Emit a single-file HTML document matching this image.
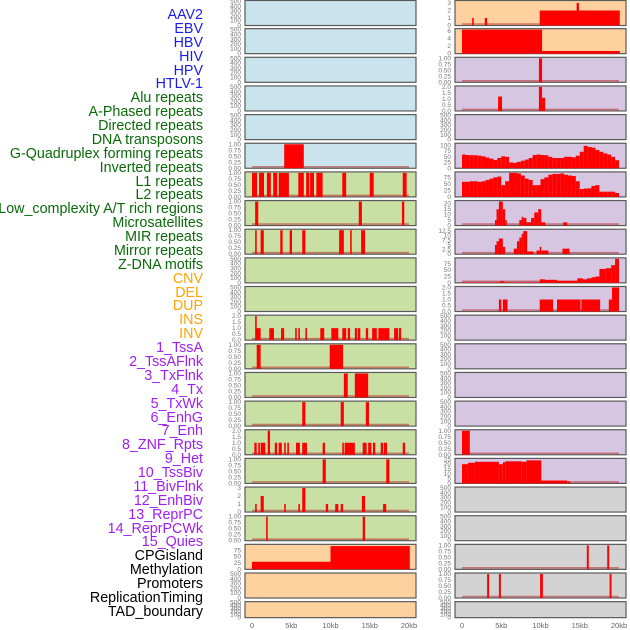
<!DOCTYPE html>
<html><head><meta charset="utf-8"><style>
body{margin:0;background:#fff;width:630px;height:630px;overflow:hidden;position:relative;font-family:"Liberation Sans",sans-serif}
#labels{position:absolute;left:0;top:0;width:203px;height:630px}
.lab{position:absolute;right:0;font-size:14.3px;line-height:14px;white-space:nowrap}
svg{position:absolute;left:0;top:0}
</style></head><body>
<div id="labels"></div>
<svg id="chart" width="630" height="630"></svg>
<script>
const labelNames=["AAV2","EBV","HBV","HIV","HPV","HTLV-1","Alu repeats","A-Phased repeats","Directed repeats","DNA transposons","G-Quadruplex forming repeats","Inverted repeats","L1 repeats","L2 repeats","Low_complexity A/T rich regions","Microsatellites","MIR repeats","Mirror repeats","Z-DNA motifs","CNV","DEL","DUP","INS","INV","1_TssA","2_TssAFlnk","3_TxFlnk","4_Tx","5_TxWk","6_EnhG","7_Enh","8_ZNF_Rpts","9_Het","10_TssBiv","11_BivFlnk","12_EnhBiv","13_ReprPC","14_ReprPCWk","15_Quies","CPGisland","Methylation","Promoters","ReplicationTiming","TAD_boundary"];
const labelGroups=[6,13,5,15,5];
const groupColors=["#1c1cf0","#0a6a0a","#ffa500","#a020f0","#000000"];
const xTicks=[0,5,10,15,20];
const xTickLabels=["0","5kb","10kb","15kb","20kb"];
const T500=[0,100,200,300,400,500];
const T1=[0,0.25,0.5,0.75,1.0];
const T2=[0,0.5,1.0,1.5,2.0];
const leftBg=["#c9e4ec","#c9e4ec","#c9e4ec","#c9e4ec","#c9e4ec","#c9e4ec","#c9e0a5","#c9e0a5","#c9e0a5","#c9e0a5","#c9e0a5","#c9e0a5","#c9e0a5","#c9e0a5","#c9e0a5","#c9e0a5","#c9e0a5","#c9e0a5","#c9e0a5","#ffd19e","#ffd19e","#ffd19e"];
const rightBg=["#ffd19e","#ffd19e","#d6c6e2","#d6c6e2","#d6c6e2","#d6c6e2","#d6c6e2","#d6c6e2","#d6c6e2","#d6c6e2","#d6c6e2","#d6c6e2","#d6c6e2","#d6c6e2","#d6c6e2","#d6c6e2","#d6c6e2","#d3d3d3","#d3d3d3","#d3d3d3","#d3d3d3","#d3d3d3"];
const rProf5=[60,58,57,57,55,52,47,42,36,45,52,50,25,24,28,33,38,45,58,60,58,57,50,45,45,45,50,50,48,55,72,98,93,90,80,72,65,60,50,35];
const rProf6=[58,58,60,60,58,60,65,70,75,78,45,60,92,92,90,82,70,65,45,45,68,75,85,88,88,90,85,82,80,60,30,32,33,42,45,20,20,20,20,15];
const leftYmax=[500,500,500,500,500,1,1,1,1,500,500,2,1,1,1,2,1,3,1,95,500,500];
const rightYmax=[3.2,6.3,1,2,500,105,92,22,13,95,2,500,500,500,500,1,25,500,500,1,1,500];
const leftTicks=[T500,T500,T500,T500,T500,T1,T1,T1,T1,T500,T500,T2,T1,T1,T1,T2,T1,[0,1,2,3],T1,[0,25,50,75],T500,T500];
const rightTicks=[[0,1,2,3],[0,2,4,6],T1,T2,T500,[0,25,50,75,100],[0,25,50,75],[0,5,10,15,20],[0,2.5,5,7.5,10,12.5],[0,25,50,75],T2,T500,T500,T500,T500,T1,[0,5,10,15,20,25],T500,T500,T1,T1,T500];
const leftBars=[[],[],[],[],[],
[[4.1,6.6,1]],
[[0,0.64,1],[0.9,1.53,1],[1.9,2.4,1],[2.7,3.2,1],[3.4,4.7,1],[5.9,6.6,1],[6.9,7.3,1],[7.4,7.9,1],[8.2,9.0,1],[11.5,12.0,1],[15.0,15.5,1],[19.2,19.7,1]],
[[0.4,0.8,1],[13.6,14.0,1],[19.1,19.4,1]],
[[0.4,0.6,1],[1.1,1.5,1],[3.6,3.9,1],[4.8,5.1,1],[6.4,6.8,1],[11.1,11.7,1],[12.5,12.7,1],[13.9,14.4,1]],
[],[],
[[0.4,0.5,2],[0.5,1.1,1],[2.2,2.8,1],[3.7,4.1,1],[5.5,5.7,1],[5.9,6.1,1],[6.8,7.0,1],[8.7,9.2,1],[10.1,11.0,1],[11.5,12.0,1],[12.2,12.5,1],[13.1,13.4,1],[13.5,13.8,1],[14.5,14.8,1],[15.3,15.9,1],[16.1,17.5,1],[18.1,18.6,1],[18.7,19.0,1]],
[[0.6,1.1,1],[9.9,11.6,1]],
[[11.7,12.2,1],[13.1,14.8,1]],
[[6.4,6.8,1],[11.3,11.7,1],[14.5,14.9,1]],
[[0.3,0.6,1],[0.8,1.0,1],[1.1,1.7,1],[2.0,2.3,2],[2.9,3.2,1],[3.4,3.8,1],[4.1,4.3,1],[4.5,4.7,1],[5.6,6.1,1],[6.4,7.0,1],[9.0,9.3,1],[11.5,11.7,1],[11.8,13.1,1],[14.1,14.6,1],[14.8,15.2,1],[15.4,15.7,1],[16.4,16.7,1],[16.8,17.2,1],[19.2,19.5,1]],
[[9.0,9.4,1],[17.1,17.5,1]],
[[0.4,0.6,1],[1.1,1.5,2],[4.1,4.3,1],[5.9,6.1,1],[6.4,6.8,3],[9.4,9.7,1],[10.6,11.0,1],[11.3,11.6,1],[14.0,14.4,2],[16.7,17.1,1]],
[[1.8,2.0,1],[14.1,14.4,1]],
[[0,10,30],[10,20.1,92]],
[],[]];
const rightBars=[
[[1.3,1.5,1],[2.9,3.2,1],[9.9,20.1,2],[14.6,14.9,3]],
[[0,10.2,6.3],[10.2,20.1,0.7]],
[[9.8,10.2,1]],
[[4.6,5.1,1.2],[9.8,10.2,2],[10.2,10.6,1.1]],
[],
null,null,
[[4.2,4.4,5],[4.4,4.7,15],[4.7,5.2,22],[5.2,5.5,15],[5.5,5.7,5],[7.3,7.6,5],[7.6,7.8,8],[7.8,8.2,7],[8.2,8.8,3],[8.8,9.2,7],[9.2,9.7,12],[9.7,10.1,15],[10.1,10.6,3],[12.9,13.4,3]],
[[4.2,4.4,5],[4.4,4.7,7],[4.7,5.2,8.5],[5.2,5.5,4],[6.6,7.0,3],[7.0,7.3,7],[7.3,7.6,9],[7.6,7.8,11],[7.8,8.3,12.5],[8.3,9.1,1.5],[9.5,9.9,2],[9.9,10.1,4],[10.1,11.0,2],[12.8,13.7,3]],
[[0,4.8,2],[4.8,5.4,6],[5.4,9.9,2],[9.9,10.6,14],[10.6,12.1,12],[12.1,14.7,8],[14.7,15.4,18],[15.4,15.9,14],[15.9,16.5,18],[16.5,17.0,22],[17.0,17.5,25],[17.5,18.3,55],[18.3,19.0,58],[19.0,19.5,70],[19.5,20.0,95]],
[[4.7,5.0,1],[5.2,5.8,1],[9.9,11.6,1],[12.1,15.1,1],[15.2,17.6,1],[18.7,19.1,1],[19.1,20.0,2]],
[],[],[],[],
[[0,1.0,1]],
[[0,0.75,20],[0.75,1.65,21.5],[1.65,4.7,22.5],[4.7,5.2,20],[5.2,5.5,22],[5.5,7.6,23],[7.6,8.2,22.5],[8.2,10.1,24],[10.1,13.4,3],[13.4,13.8,2]],
[],[],
[[15.9,16.15,1],[18.5,18.75,1]],
[[3.2,3.45,1],[4.7,4.95,1],[9.95,10.3,1],[18.8,19.05,1]],
[]];
function binsToBars(b){return b.map((v,i)=>[i*0.5,i*0.5+0.5,v]);}
rightBars[5]=binsToBars(rProf5);
rightBars[6]=binsToBars(rProf6);

const labDiv=document.getElementById('labels');
let gi=0,cnt=0;
labelNames.forEach((n,i)=>{
  while(cnt>=labelGroups[gi]){cnt=0;gi++;}
  cnt++;
  const d=document.createElement('div');
  d.className='lab';
  
  
  d.style.top=(15+i*13.88-7)+'px';
  d.style.color=groupColors[gi];
  d.textContent=n;
  labDiv.appendChild(d);
});

const NS='http://www.w3.org/2000/svg';
const svg=document.getElementById('chart');
function mk(t,a,p){const e=document.createElementNS(NS,t);for(const k in a)e.setAttribute(k,a[k]);(p||svg).appendChild(e);return e;}
const ROWH=28.65;
const cols=[{x0:245,x1:416,z:252,bg:leftBg,ym:leftYmax,tk:leftTicks,bars:leftBars,name:'left'},
            {x0:455,x1:626,z:462,bg:rightBg,ym:rightYmax,tk:rightTicks,bars:rightBars,name:'right'}];
const KB=7.85;
cols.forEach(c=>{
  const xs=kb=>c.z+kb*KB;
  for(let r=0;r<22;r++){
    const top=r*ROWH+(r===0?0.5:0), h=(r===21?16:25);
    const g=mk('g',{});
    
    
    mk('rect',{x:c.x0,y:top,width:c.x1-c.x0,height:h,fill:c.bg[r],stroke:'#5a5a5a','stroke-width':1.2},g);
    const ymax=c.ym[r];
    const ys=v=>top+h-(v/ymax)*(h-1);
    const bars=c.bars[r];
    if(bars.length){
      const bl=mk('line',{x1:xs(0),x2:xs(20),y1:top+h-1.5,y2:top+h-1.5,stroke:'rgba(190,40,40,0.55)','stroke-width':1.6},g);
      
      
    }
    bars.forEach(b=>{
      const y=ys(Math.min(b[2],ymax));
      const w=Math.max(xs(b[1])-xs(b[0]),1.6);
      const rc=mk('rect',{x:xs(b[0]),y:y,width:w,height:top+h-y,fill:'#ff0000'},g);
      
      
    });
    c.tk[r].forEach(t=>{
      const s=(ymax>=10||Number.isInteger(t)&&ymax>=3)?String(t):(c.tk[r]===T1?t.toFixed(2):t.toFixed(1));
      const tx=mk('text',{x:c.x0-4,y:ys(t)+2,'font-size':6.5,fill:'#777','text-anchor':'end'},g);
      
      
      tx.textContent=s;
    });
  }
  xTicks.forEach((t,i)=>{
    const tx=mk('text',{x:xs(t),y:628,'font-size':7.5,fill:'#666','text-anchor':'middle'});
    
    
    tx.textContent=xTickLabels[i];
  });
});
</script>
</body></html>
